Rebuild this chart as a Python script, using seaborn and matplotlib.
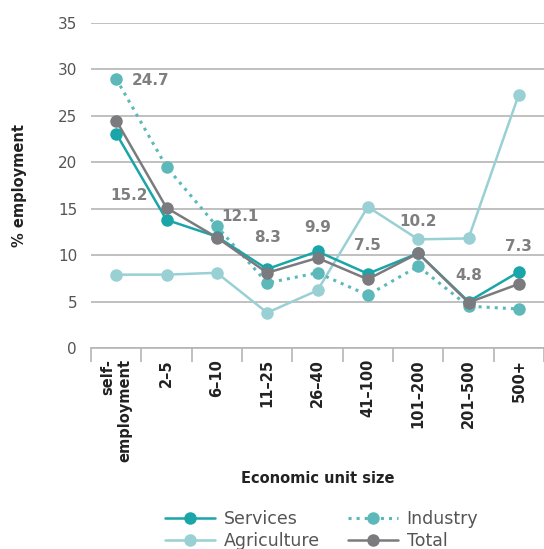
import matplotlib
matplotlib.use("Agg")
import matplotlib.pyplot as plt
import seaborn as sns
import pandas as pd

categories = ["self-\nemployment", "2–5", "6–10", "11–25", "26–40", "41–100", "101–200", "201–500", "500+"]
services = [23.1, 13.8, 12.0, 8.5, 10.4, 8.0, 10.2, 5.0, 8.2]
industry = [29.0, 19.5, 13.1, 7.0, 8.1, 5.7, 8.8, 4.5, 4.2]
agriculture = [7.9, 7.9, 8.1, 3.8, 6.2, 15.2, 11.7, 11.8, 27.3]
total = [24.5, 15.1, 11.9, 8.1, 9.7, 7.4, 10.2, 4.9, 6.9]
total_labels = ["24.7", "15.2", "12.1", "8.3", "9.9", "7.5", "10.2", "4.8", "7.3"]

series = {"Services": services, "Industry": industry, "Agriculture": agriculture, "Total": total}
colors = {"Services": "#1aa5a8", "Industry": "#5db8ba", "Agriculture": "#99d0d4", "Total": "#7b7b7f"}
styles = {"Services": "-", "Industry": ":", "Agriculture": "-", "Total": "-"}

rows = []
for name, vals in series.items():
    for c, v in zip(categories, vals):
        rows.append({"size": c, "value": v, "series": name})
df = pd.DataFrame(rows)

sns.set_style("white")
plt.rcParams["font.family"] = ["DejaVu Sans"]

fig = plt.figure(figsize=(5.44, 5.49), dpi=100)
ax = fig.add_axes([91/544, 1 - 348/549, (544 - 91)/544, (348 - 23)/549])

order = ["Services", "Industry", "Agriculture", "Total"]
zorders = {"Agriculture": 2, "Industry": 3, "Services": 4, "Total": 5}
for name in order:
    sub = df[df["series"] == name]
    sns.lineplot(data=sub, x="size", y="value", ax=ax, color=colors[name], linestyle=styles[name],
                 linewidth=1.8 if styles[name] == "-" else 2.2, marker="o", markersize=9,
                 markeredgewidth=0, label=name, sort=False, zorder=zorders[name])

# Labels for Total
offsets = [(34, 38), (-37, 11), (23, 19), (0, 33), (0, 29), (0, 33), (0, 32), (0, 28), (0, 34)]
for i, (lab, v, off) in enumerate(zip(total_labels, [float(t) for t in total_labels], offsets)):
    ax.annotate(lab, xy=(i, v), xytext=(off[0] * 0.72, off[1] * 0.72), textcoords="offset points",
                ha="center", va="center", fontsize=11, fontweight="bold", color="#7f7f82")

ax.set_xlim(-0.5, 8.5)
ax.set_ylim(0, 35)
ax.set_yticks(range(0, 36, 5))
ax.grid(axis="y", color="#b5b5b5", linewidth=1.2)
ax.set_axisbelow(True)
for s in ["top", "right", "left"]:
    ax.spines[s].set_visible(False)
ax.spines["bottom"].set_color("#b5b5b5")
ax.spines["bottom"].set_linewidth(1.2)

ax.set_xticks(range(len(categories)))
ax.set_xticklabels(categories, rotation=90, fontsize=10.5, fontweight="bold", color="#222222",
                   va="top", ha="center", multialignment="right")
ax.tick_params(axis="x", which="major", length=0, pad=8)
ax.set_xticks([i - 0.5 for i in range(len(categories) + 1)], minor=True)
ax.tick_params(axis="x", which="minor", bottom=True, length=10, color="#b5b5b5", width=1.2, direction="out")
ax.tick_params(axis="y", length=0, labelsize=11, labelcolor="#555555", pad=10)

ax.set_xlabel("Economic unit size", fontsize=10.5, fontweight="bold", color="#222222", labelpad=6)
ax.set_ylabel("% employment", fontsize=10.5, fontweight="bold", color="#222222", labelpad=22)

handles, labels = ax.get_legend_handles_labels()
hmap = dict(zip(labels, handles))
leg_order = ["Services", "Agriculture", "Industry", "Total"]
leg = fig.legend([hmap[n] for n in leg_order], leg_order, loc="lower center", ncol=2,
                 bbox_to_anchor=(0.591, -0.031), frameon=False, fontsize=12.5, handlelength=2.9,
                 columnspacing=1.6, labelspacing=0.25, handletextpad=0.5)
for t in leg.get_texts():
    t.set_color("#555555")
ax.get_legend().remove()

fig.savefig("out.png", dpi=100)
